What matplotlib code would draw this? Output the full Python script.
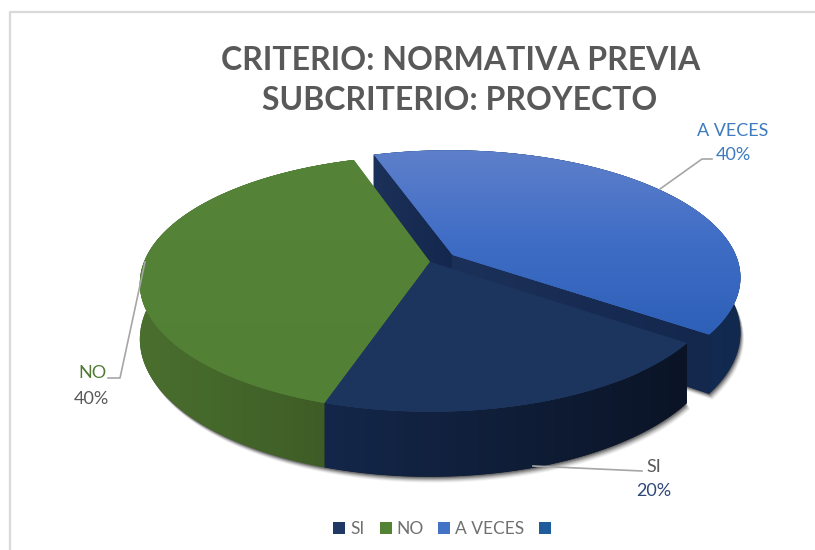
import numpy as np
import matplotlib
matplotlib.use('Agg')
import matplotlib.pyplot as plt
from matplotlib.patches import Polygon, Rectangle
from matplotlib.colors import LinearSegmentedColormap

plt.rcParams['font.family'] = ['Lato', 'DejaVu Sans']

# datos
labels = ['SI', 'NO', 'A VECES']
values = [20, 40, 40]
explode = [0, 0, 0.098]
top_colors = [['#1c355e', '#1c355e'], ['#558338', '#528035'], ['#5f80ca', '#3f6dc6', '#2e60b8']]
side_colors = [['#14274a', '#0b1426'], ['#4a6f2e', '#3c5a25'], ['#1c3762', '#12294f']]
wall_colors = ['#1c3159', '#14274d']
legend_colors = ['#1f3864', '#548235', '#4472c4', '#1f5c99']

# proyeccion del disco
cx, cy = 430, 262
A, B, D, k = 286, 124.5, 54, 0.1687
start_angle = 324


def proj(X, Y, Z=0.0):
    w = 1 + k * Y
    return np.column_stack([cx + A * X / w, cy - (B * Y - D * Z) / w])


def gradient(ax, poly, colors, horizontal=False):
    cmap = LinearSegmentedColormap.from_list('g', colors)
    x0, y0 = poly.min(axis=0) - 1
    x1, y1 = poly.max(axis=0) + 1
    grad = np.linspace(0, 1, 256).reshape(1, -1) if horizontal else np.linspace(0, 1, 256).reshape(-1, 1)
    patch = Polygon(poly, closed=True, facecolor=colors[len(colors) // 2], edgecolor='none', transform=ax.transData)
    ax.add_patch(patch)
    im = ax.imshow(grad, cmap=cmap, extent=[x0, x1, y1, y0], aspect='auto', interpolation='bilinear', zorder=patch.get_zorder())
    im.set_clip_path(patch)


fig = plt.figure(figsize=(8.15, 5.5), dpi=100)
ax = fig.add_axes([0, 0, 1, 1])
ax.axis('off')

fracs = np.array(values) / sum(values)
angles = start_angle - np.concatenate([[0], np.cumsum(fracs) * 360])

slices = []
for i in range(len(values)):
    t = np.radians(np.linspace(angles[i], angles[i + 1], 120))
    mid = np.radians((angles[i] + angles[i + 1]) / 2)
    ox, oy = explode[i] * np.cos(mid), explode[i] * np.sin(mid)
    slices.append((np.cos(t) + ox, np.sin(t) + oy, ox, oy))


def draw_shadow(i):
    X, Y, ox, oy = slices[i]
    base = proj(X, Y, 1)
    apex = proj(np.array([ox]), np.array([oy]), 1)
    for s, alpha in zip([6, 5, 4, 3, 2, 1], [0.06, 0.1, 0.14, 0.2, 0.28, 0.35]):
        pts = np.vstack([apex, base]) + [0.6 * s, s]
        ax.add_patch(Polygon(pts, closed=True, facecolor='#303030', edgecolor='none', alpha=alpha))


def draw_side(i):
    X, Y, ox, oy = slices[i]
    poly = np.vstack([proj(X, Y, 0), proj(X, Y, 1)[::-1]])
    gradient(ax, poly, side_colors[i], horizontal=True)


def draw_top(i):
    X, Y, ox, oy = slices[i]
    poly = np.vstack([proj(np.array([ox]), np.array([oy])), proj(X, Y)])
    gradient(ax, poly, top_colors[i])


# porcion separada primero, con sus paredes interiores
X, Y, ox, oy = slices[2]
draw_shadow(2)
draw_side(2)
apex_t = proj(np.array([ox]), np.array([oy]))
apex_b = proj(np.array([ox]), np.array([oy]), 1)
for j in [0, -1]:
    p_t = proj(X[[j]], Y[[j]])
    p_b = proj(X[[j]], Y[[j]], 1)
    gradient(ax, np.vstack([apex_t, p_t, p_b, apex_b]), wall_colors, horizontal=True)

for i in [1, 0]:
    draw_shadow(i)
for i in [1, 0]:
    draw_side(i)
    draw_top(i)
draw_top(2)

# lineas guia
ax.plot([660, 702, 712], [189, 159, 159], color='#a6a6a6', lw=1.2, zorder=5)
ax.plot([145, 120, 108], [262, 378, 378], color='#a6a6a6', lw=1.2, zorder=5)
ax.plot([533, 642], [466, 471], color='#a6a6a6', lw=1.2, zorder=5)

# titulo
ax.text(461, 60, 'CRITERIO: NORMATIVA PREVIA', ha='center', va='center', fontsize=23, fontweight='bold', color='#595959')
ax.text(460, 100, 'SUBCRITERIO: PROYECTO', ha='center', va='center', fontsize=23, fontweight='bold', color='#595959')

# etiquetas
ax.text(733, 130.5, 'A VECES', ha='center', va='center', fontsize=13, color='#3d7abf')
ax.text(733, 154.5, '40%', ha='center', va='center', fontsize=13, color='#3d7abf')
ax.text(92, 373.5, 'NO', ha='center', va='center', fontsize=13, color='#4f7a35')
ax.text(91, 398.5, '40%', ha='center', va='center', fontsize=13, color='#595959')
ax.text(654, 466.5, 'SI', ha='center', va='center', fontsize=13, color='#595959')
ax.text(654, 490.5, '20%', ha='center', va='center', fontsize=13, color='#2f4878')

# leyenda
legend_labels = labels + ['']
sq_x = [333, 380, 438, 539]
tx_x = [350, 396, 455, 555]
for lab, col, sx, tx in zip(legend_labels, legend_colors, sq_x, tx_x):
    ax.add_patch(Rectangle((sx, 522), 11.5, 11.5, facecolor=col, edgecolor='none'))
    ax.text(tx, 528.5, lab, ha='left', va='center', fontsize=12.5, color='#707070')

# borde del grafico
ax.plot([815, 10, 10], [12, 12, 550], color='#d9d9d9', lw=1.6, zorder=6)

ax.set_xlim(0, 815)
ax.set_ylim(550, 0)
fig.savefig('out.png', dpi=100, facecolor='white')
